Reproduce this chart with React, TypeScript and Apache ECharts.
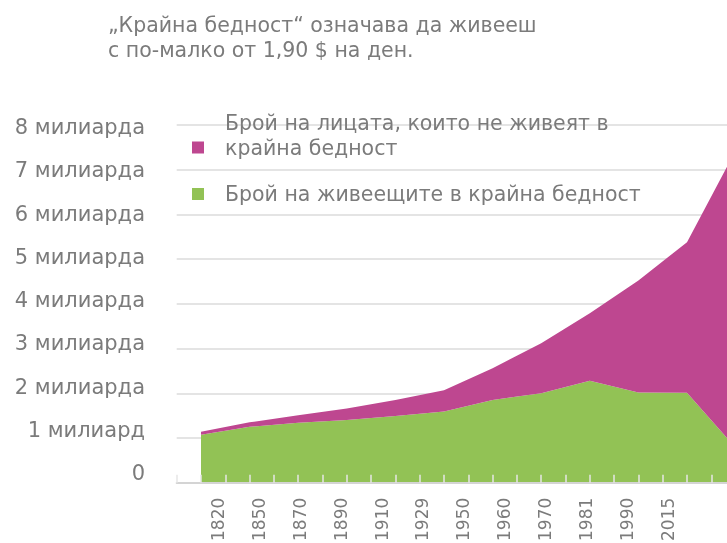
import React, { useEffect, useRef } from "react";
import * as echarts from "echarts";

const years = ["1820", "1850", "1870", "1890", "1910", "1929", "1950", "1960", "1970", "1981", "1990", "2015"];
const inPoverty = [1.07, 1.25, 1.34, 1.4, 1.49, 1.59, 1.85, 2.0, 2.28, 2.02, 2.01, 0.78];
const notInPoverty = [0.07, 0.1, 0.17, 0.26, 0.36, 0.48, 0.71, 1.12, 1.51, 2.5, 3.37, 6.65];
const yTickLabels = ["0", "1 милиард", "2 милиарда", "3 милиарда", "4 милиарда", "5 милиарда", "6 милиарда", "7 милиарда", "8 милиарда"];
const povertyName = "Брой на живеещите в крайна бедност";
const notPovertyName = "Брой на лицата, които не живеят в крайна бедност";
const titleText = "„Крайна бедност“ означава да живееш\nс по-малко от 1,90 $ на ден.";

const FONT = "DejaVu Sans";
const TEXT = "#7b7b7b";
const GREEN = "#92c255";
const PINK = "#be4790";

export default function App() {
  const ref = useRef<HTMLDivElement>(null);
  useEffect(() => {
    if (!ref.current) return;
    const chart = echarts.init(ref.current, null, { renderer: "svg" });
    chart.setOption({
      animation: false,
      textStyle: { fontFamily: FONT },
      title: {
        text: titleText,
        left: 108,
        top: 12,
        padding: 0,
        textStyle: { fontFamily: FONT, fontSize: 20.5, fontWeight: "normal", color: TEXT, lineHeight: 25 },
      },
      legend: [
        {
          data: [notPovertyName],
          left: 192,
          top: 110,
          padding: 0,
          orient: "vertical",
          icon: "rect",
          itemWidth: 12,
          itemHeight: 12,
          selectedMode: false,
          formatter: (n: string) => n.replace(" в крайна", " в\nкрайна") + "\n\u00a0",
          textStyle: { fontFamily: FONT, fontSize: 20.5, color: TEXT, lineHeight: 25, padding: [0, 0, 0, 16] },
        },
        {
          data: [povertyName],
          left: 192,
          top: 181.5,
          padding: 0,
          orient: "vertical",
          icon: "rect",
          itemWidth: 12,
          itemHeight: 12,
          selectedMode: false,
          textStyle: { fontFamily: FONT, fontSize: 20.5, color: TEXT, lineHeight: 25, padding: [0, 0, 0, 16] },
        },
      ],
      grid: [
        { left: 176.7, width: 583.2, top: 125, bottom: 60.3, outerBoundsMode: "none", containLabel: false },
        { left: 197.5, width: 490.9, top: 125, bottom: 60.3, outerBoundsMode: "none", containLabel: false },
        { left: 155, width: 20, top: 127, bottom: 70, outerBoundsMode: "none", containLabel: false },
      ],
      xAxis: [
        {
          type: "category",
          gridIndex: 0,
          data: years,
          boundaryGap: true,
          z: 10,
          axisLine: { show: true, lineStyle: { color: "#d4d4d4", width: 2 } },
          axisTick: { show: true, inside: true, length: 8, alignWithLabel: false, lineStyle: { color: "#e6e6e6", width: 1.5 } },
          axisLabel: { show: false },
          splitLine: { show: false },
        },
        {
          type: "category",
          gridIndex: 0,
          data: years,
          boundaryGap: true,
          position: "bottom",
          z: 10,
          axisLine: { show: false },
          axisTick: { show: true, inside: true, length: 8, alignWithLabel: true, lineStyle: { color: "#e6e6e6", width: 1.5 } },
          axisLabel: { show: false },
          splitLine: { show: false },
        },
        {
          type: "category",
          gridIndex: 1,
          data: years,
          boundaryGap: true,
          axisLine: { show: false },
          axisTick: { show: false },
          splitLine: { show: false },
          axisLabel: { show: true, rotate: 90, margin: 15, fontFamily: FONT, fontSize: 17, color: TEXT },
        },
        {
          type: "value",
          gridIndex: 2,
          min: 0,
          max: 1,
          show: false,
        },
      ],
      yAxis: [
        {
          type: "value",
          gridIndex: 0,
          min: 0,
          max: 8,
          interval: 1,
          axisLine: { show: false },
          axisTick: { show: false },
          axisLabel: { show: false },
          splitLine: { show: true, lineStyle: { color: "#e4e4e4", width: 2 } },
        },
        {
          type: "value",
          gridIndex: 1,
          min: 0,
          max: 8,
          show: false,
        },
        {
          type: "value",
          gridIndex: 2,
          min: 0,
          max: 8,
          interval: 1,
          axisLine: { show: false },
          axisTick: { show: false },
          splitLine: { show: false },
          axisLabel: {
            show: true,
            margin: 10,
            fontFamily: FONT,
            fontSize: 21,
            color: TEXT,
            formatter: (v: number) => yTickLabels[Math.round(v)] ?? "",
          },
        },
      ],
      series: [
        {
          name: povertyName,
          type: "line",
          xAxisIndex: 0,
          yAxisIndex: 0,
          stack: "total",
          data: inPoverty,
          symbol: "none",
          lineStyle: { width: 0 },
          itemStyle: { color: GREEN },
          areaStyle: { color: GREEN, opacity: 1 },
        },
        {
          name: notPovertyName,
          type: "line",
          xAxisIndex: 0,
          yAxisIndex: 0,
          stack: "total",
          data: notInPoverty,
          symbol: "none",
          lineStyle: { width: 0 },
          itemStyle: { color: PINK },
          areaStyle: { color: PINK, opacity: 1 },
        },
      ],
    });
    return () => chart.dispose();
  }, []);
  return <div ref={ref} style={{ position: "fixed", left: 0, top: 0, width: 727, height: 543 }} />;
}
